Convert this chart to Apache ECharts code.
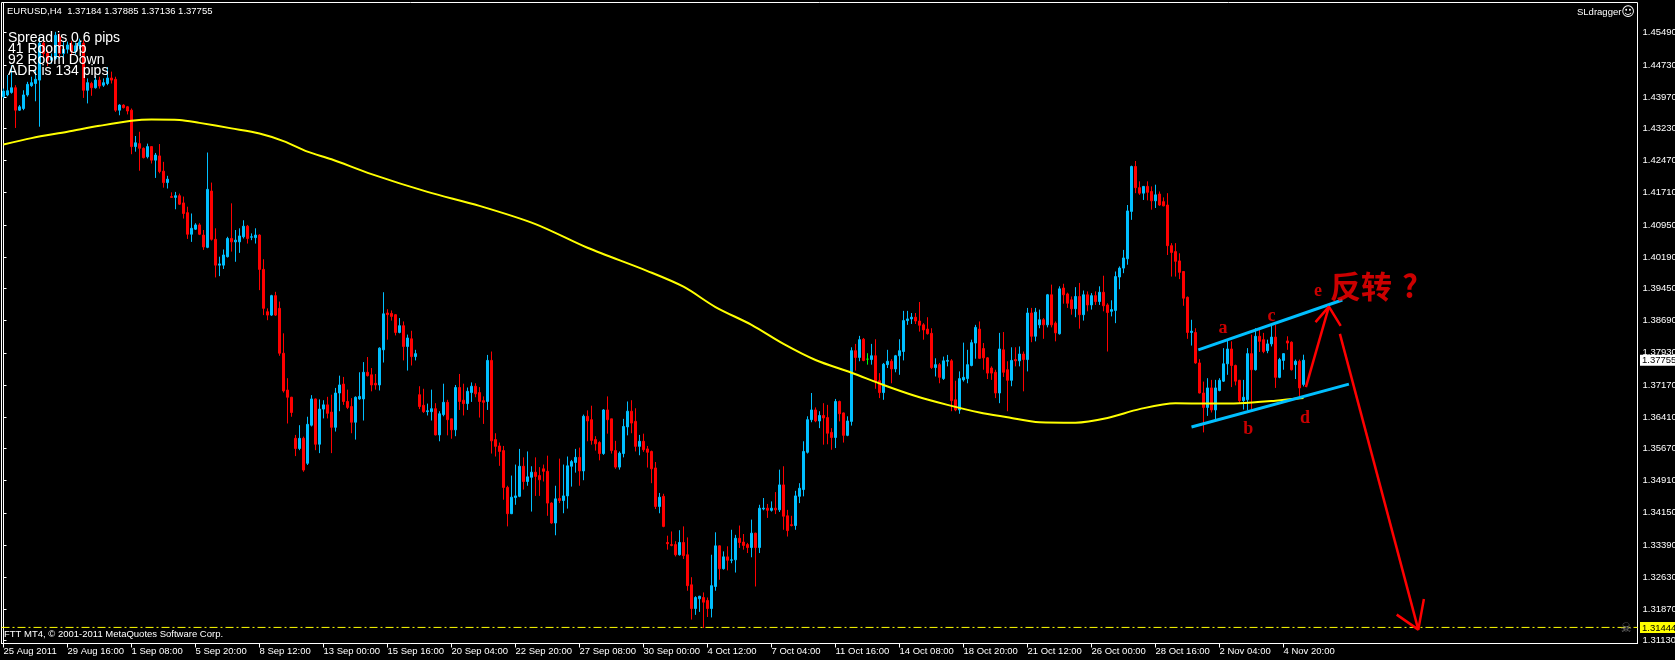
<!DOCTYPE html>
<html><head><meta charset="utf-8">
<script src="https://cdn.jsdelivr.net/npm/echarts@6/dist/echarts.min.js"></script>
<style>html,body{margin:0;padding:0;background:#000;}#c{width:1675px;height:660px;}</style>
</head><body><div id="c"></div>
<script>
// ---------- DATA ----------
const tickLabels = ["25 Aug 2011","29 Aug 16:00","1 Sep 08:00","5 Sep 20:00","8 Sep 12:00","13 Sep 00:00","15 Sep 16:00","20 Sep 04:00","22 Sep 20:00","27 Sep 08:00","30 Sep 00:00","4 Oct 12:00","7 Oct 04:00","11 Oct 16:00","14 Oct 08:00","18 Oct 20:00","21 Oct 12:00","26 Oct 00:00","28 Oct 16:00","2 Nov 04:00","4 Nov 20:00"];
const priceTicks = [1.45490,1.44730,1.43970,1.43230,1.42470,1.41710,1.40950,1.40190,1.39450,1.38690,1.37930,1.37170,1.36410,1.35670,1.34910,1.34150,1.33390,1.32630,1.31870,1.31130];
const bidPrice = 1.37755;
const targetPrice = 1.31444;
// [open, close, low, high]
const candles = [
[1.4398,1.4411,1.4394,1.4417],[1.4402,1.4412,1.4399,1.4449],[1.4408,1.4419,1.4405,1.4472],[1.4419,1.4366,1.4324,1.4425],[1.4366,1.4374,1.4364,1.4378],
[1.4370,1.4402,1.4366,1.4413],[1.4402,1.4427,1.4398,1.4433],[1.4424,1.4431,1.4421,1.4445],[1.4429,1.4439,1.4387,1.4461],[1.4437,1.4524,1.4327,1.4539],
[1.4524,1.4500,1.4490,1.4532],[1.4500,1.4484,1.4470,1.4508],[1.4484,1.4490,1.4476,1.4500],[1.4488,1.4543,1.4484,1.4551],[1.4539,1.4500,1.4492,1.4547],
[1.4500,1.4510,1.4490,1.4530],[1.4510,1.4520,1.4500,1.4528],[1.4520,1.4505,1.4495,1.4530],[1.4505,1.4518,1.4498,1.4526],[1.4518,1.4527,1.4510,1.4535],
[1.4524,1.4413,1.4395,1.4531],[1.4413,1.4431,1.4382,1.4441],[1.4429,1.4419,1.4400,1.4433],[1.4419,1.4437,1.4417,1.4446],[1.4437,1.4423,1.4417,1.4445],
[1.4425,1.4431,1.4421,1.4441],[1.4429,1.4442,1.4425,1.4468],[1.4442,1.4437,1.4429,1.4457],[1.4439,1.4366,1.4362,1.4445],[1.4366,1.4378,1.4354,1.4380],
[1.4378,1.4372,1.4370,1.4380],[1.4374,1.4364,1.4356,1.4376],[1.4366,1.4280,1.4262,1.4370],[1.4280,1.4289,1.4268,1.4305],[1.4287,1.4276,1.4223,1.4315],
[1.4276,1.4254,1.4252,1.4278],[1.4256,1.4280,1.4252,1.4287],[1.4280,1.4248,1.4240,1.4281],[1.4248,1.4260,1.4206,1.4265],[1.4258,1.4221,1.4217,1.4286],
[1.4222,1.4195,1.4183,1.4244],[1.4195,1.4203,1.4181,1.4211],[1.4162,1.4160,1.4159,1.4172],[1.4160,1.4164,1.4132,1.4173],[1.4164,1.4144,1.4142,1.4169],
[1.4147,1.4122,1.4110,1.4162],[1.4124,1.4073,1.4062,1.4138],[1.4073,1.4087,1.4055,1.4122],[1.4085,1.4095,1.4083,1.4099],[1.4095,1.4073,1.4071,1.4099],
[1.4071,1.4043,1.4036,1.4083],[1.4042,1.4179,1.4040,1.4266],[1.4175,1.4061,1.4058,1.4195],[1.4061,1.4000,1.3971,1.4087],[1.4000,1.4003,1.3974,1.4020],
[1.4000,1.4024,1.3991,1.4037],[1.4020,1.4063,1.4018,1.4067],[1.4063,1.4055,1.4032,1.4146],[1.4055,1.4059,1.4008,1.4083],[1.4055,1.4069,1.4029,1.4087],
[1.4067,1.4092,1.4063,1.4106],[1.4092,1.4063,1.4051,1.4095],[1.4066,1.4067,1.4059,1.4075],[1.4065,1.4071,1.4051,1.4087],[1.4071,1.3990,1.3941,1.4073],
[1.3990,1.3898,1.3882,1.4014],[1.3890,1.3882,1.3870,1.3898],[1.3882,1.3928,1.3880,1.3930],[1.3928,1.3882,1.3880,1.3937],[1.3898,1.3792,1.3786,1.3914],
[1.3792,1.3703,1.3699,1.3839],[1.3705,1.3688,1.3626,1.3733],[1.3688,1.3652,1.3642,1.3689],[1.3591,1.3567,1.3549,1.3599],[1.3567,1.3591,1.3563,1.3622],
[1.3591,1.3516,1.3512,1.3595],[1.3532,1.3624,1.3528,1.3642],[1.3622,1.3684,1.3619,1.3693],[1.3684,1.3577,1.3563,1.3685],[1.3577,1.3660,1.3556,1.3683],
[1.3660,1.3670,1.3638,1.3681],[1.3670,1.3650,1.3638,1.3689],[1.3653,1.3617,1.3556,1.3694],[1.3617,1.3698,1.3607,1.3710],[1.3698,1.3717,1.3655,1.3739],
[1.3719,1.3678,1.3670,1.3736],[1.3678,1.3664,1.3660,1.3706],[1.3666,1.3629,1.3603,1.3686],[1.3629,1.3688,1.3588,1.3690],[1.3684,1.3690,1.3682,1.3747],
[1.3684,1.3747,1.3633,1.3771],[1.3747,1.3739,1.3737,1.3783],[1.3741,1.3717,1.3702,1.3757],[1.3721,1.3717,1.3706,1.3743],[1.3717,1.3804,1.3704,1.3806],
[1.3800,1.3885,1.3770,1.3936],[1.3887,1.3883,1.3824,1.3896],[1.3886,1.3879,1.3869,1.3893],[1.3883,1.3841,1.3834,1.3884],[1.3841,1.3857,1.3839,1.3875],
[1.3857,1.3808,1.3775,1.3867],[1.3808,1.3828,1.3751,1.3836],[1.3826,1.3784,1.3763,1.3845],[1.3784,1.3791,1.3775,1.3800],[1.3694,1.3666,1.3660,1.3714],
[1.3669,1.3654,1.3651,1.3708],[1.3654,1.3656,1.3645,1.3673],[1.3654,1.3661,1.3633,1.3706],[1.3661,1.3599,1.3598,1.3674],[1.3599,1.3649,1.3584,1.3655],
[1.3647,1.3676,1.3643,1.3720],[1.3676,1.3635,1.3598,1.3682],[1.3637,1.3611,1.3590,1.3637],[1.3611,1.3711,1.3596,1.3717],[1.3711,1.3678,1.3658,1.3743],
[1.3681,1.3673,1.3645,1.3720],[1.3673,1.3702,1.3658,1.3711],[1.3699,1.3714,1.3677,1.3723],[1.3714,1.3696,1.3688,1.3721],[1.3699,1.3678,1.3640,1.3712],
[1.3680,1.3676,1.3625,1.3690],[1.3678,1.3775,1.3658,1.3788],[1.3775,1.3585,1.3555,1.3796],[1.3588,1.3572,1.3548,1.3603],[1.3573,1.3560,1.3526,1.3581],
[1.3562,1.3475,1.3446,1.3573],[1.3475,1.3413,1.3383,1.3479],[1.3413,1.3452,1.3412,1.3503],[1.3451,1.3455,1.3434,1.3529],[1.3454,1.3525,1.3452,1.3566],
[1.3525,1.3489,1.3470,1.3546],[1.3489,1.3500,1.3479,1.3560],[1.3499,1.3511,1.3418,1.3525],[1.3511,1.3501,1.3455,1.3546],[1.3503,1.3493,1.3455,1.3523],
[1.3519,1.3513,1.3489,1.3529],[1.3513,1.3438,1.3408,1.3550],[1.3438,1.3391,1.3389,1.3440],[1.3391,1.3448,1.3362,1.3479],[1.3449,1.3444,1.3438,1.3543],
[1.3444,1.3455,1.3414,1.3529],[1.3455,1.3526,1.3425,1.3548],[1.3525,1.3536,1.3477,1.3540],[1.3534,1.3546,1.3510,1.3566],[1.3546,1.3514,1.3479,1.3569],
[1.3514,1.3643,1.3492,1.3647],[1.3643,1.3632,1.3584,1.3657],[1.3635,1.3586,1.3576,1.3668],[1.3588,1.3578,1.3562,1.3596],[1.3581,1.3555,1.3539,1.3584],
[1.3555,1.3658,1.3552,1.3660],[1.3658,1.3635,1.3602,1.3690],[1.3637,1.3562,1.3555,1.3637],[1.3562,1.3523,1.3519,1.3585],[1.3523,1.3556,1.3517,1.3560],
[1.3555,1.3619,1.3546,1.3637],[1.3618,1.3655,1.3598,1.3678],[1.3655,1.3627,1.3603,1.3681],[1.3631,1.3572,1.3560,1.3662],[1.3572,1.3584,1.3551,1.3599],
[1.3584,1.3564,1.3559,1.3602],[1.3566,1.3558,1.3522,1.3573],[1.3560,1.3519,1.3485,1.3562],[1.3521,1.3430,1.3424,1.3535],[1.3430,1.3452,1.3414,1.3462],
[1.3454,1.3383,1.3381,1.3460],[1.3345,1.3342,1.3328,1.3361],[1.3340,1.3338,1.3336,1.3371],[1.3340,1.3316,1.3312,1.3348],[1.3316,1.3345,1.3314,1.3374],
[1.3345,1.3314,1.3306,1.3383],[1.3316,1.3243,1.3231,1.3357],[1.3245,1.3189,1.3163,1.3263],[1.3189,1.3215,1.3174,1.3218],[1.3212,1.3218,1.3181,1.3219],
[1.3215,1.3204,1.3143,1.3227],[1.3208,1.3189,1.3169,1.3215],[1.3189,1.3243,1.3168,1.3316],[1.3241,1.3337,1.3231,1.3369],[1.3337,1.3283,1.3257,1.3338],
[1.3283,1.3311,1.3281,1.3324],[1.3311,1.3303,1.3279,1.3336],[1.3303,1.3304,1.3296,1.3375],[1.3304,1.3355,1.3274,1.3363],[1.3355,1.3345,1.3332,1.3385],
[1.3346,1.3338,1.3328,1.3365],[1.3340,1.3333,1.3320,1.3344],[1.3333,1.3367,1.3310,1.3399],[1.3367,1.3333,1.3241,1.3368],[1.3333,1.3426,1.3320,1.3434],
[1.3424,1.3426,1.3421,1.3450],[1.3426,1.3421,1.3403,1.3436],[1.3421,1.3426,1.3418,1.3442],[1.3426,1.3422,1.3412,1.3464],[1.3422,1.3481,1.3417,1.3517],
[1.3481,1.3407,1.3375,1.3525],[1.3408,1.3373,1.3359,1.3422],[1.3387,1.3385,1.3383,1.3408],[1.3385,1.3455,1.3375,1.3467],[1.3454,1.3473,1.3438,1.3485],
[1.3470,1.3560,1.3454,1.3584],[1.3558,1.3635,1.3555,1.3643],[1.3635,1.3658,1.3629,1.3698],[1.3658,1.3632,1.3629,1.3664],[1.3632,1.3645,1.3615,1.3655],
[1.3645,1.3639,1.3576,1.3674],[1.3640,1.3603,1.3577,1.3670],[1.3605,1.3593,1.3564,1.3615],[1.3593,1.3678,1.3568,1.3684],[1.3678,1.3649,1.3631,1.3680],
[1.3651,1.3598,1.3581,1.3652],[1.3598,1.3632,1.3596,1.3643],[1.3631,1.3798,1.3621,1.3806],[1.3798,1.3782,1.3751,1.3814],[1.3782,1.3824,1.3773,1.3833],
[1.3825,1.3775,1.3773,1.3828],[1.3778,1.3778,1.3765,1.3792],[1.3777,1.3786,1.3765,1.3814],[1.3786,1.3725,1.3708,1.3825],[1.3727,1.3699,1.3686,1.3745],
[1.3699,1.3766,1.3682,1.3769],[1.3765,1.3773,1.3757,1.3800],[1.3773,1.3755,1.3721,1.3778],[1.3755,1.3786,1.3747,1.3788],[1.3786,1.3798,1.3741,1.3825],
[1.3796,1.3869,1.3775,1.3892],[1.3869,1.3873,1.3859,1.3892],[1.3873,1.3877,1.3861,1.3887],[1.3877,1.3868,1.3861,1.3887],[1.3868,1.3858,1.3843,1.3913],
[1.3859,1.3847,1.3824,1.3863],[1.3849,1.3838,1.3836,1.3877],[1.3839,1.3758,1.3755,1.3851],[1.3758,1.3765,1.3737,1.3780],[1.3765,1.3735,1.3721,1.3769],
[1.3732,1.3774,1.3729,1.3784],[1.3773,1.3775,1.3761,1.3788],[1.3774,1.3680,1.3655,1.3778],[1.3682,1.3658,1.3655,1.3727],[1.3658,1.3732,1.3649,1.3749],
[1.3729,1.3735,1.3725,1.3817],[1.3732,1.3765,1.3721,1.3800],[1.3763,1.3817,1.3761,1.3824],[1.3816,1.3853,1.3779,1.3859],[1.3849,1.3780,1.3779,1.3867],
[1.3803,1.3781,1.3753,1.3816],[1.3781,1.3745,1.3731,1.3783],[1.3757,1.3745,1.3729,1.3761],[1.3747,1.3698,1.3686,1.3753],[1.3698,1.3802,1.3674,1.3840],
[1.3800,1.3747,1.3736,1.3842],[1.3753,1.3728,1.3655,1.3773],[1.3728,1.3775,1.3714,1.3806],[1.3777,1.3774,1.3761,1.3806],[1.3774,1.3790,1.3761,1.3808],
[1.3790,1.3777,1.3702,1.3796],[1.3777,1.3887,1.3749,1.3899],[1.3887,1.3832,1.3818,1.3899],[1.3832,1.3889,1.3820,1.3899],[1.3859,1.3871,1.3851,1.3895],
[1.3871,1.3859,1.3826,1.3875],[1.3859,1.3930,1.3853,1.3932],[1.3930,1.3859,1.3853,1.3954],[1.3863,1.3840,1.3820,1.3867],[1.3838,1.3944,1.3836,1.3950],
[1.3946,1.3930,1.3909,1.3956],[1.3932,1.3910,1.3899,1.3935],[1.3918,1.3897,1.3883,1.3926],[1.3897,1.3926,1.3877,1.3948],[1.3926,1.3883,1.3850,1.3958],
[1.3883,1.3930,1.3869,1.3940],[1.3930,1.3906,1.3891,1.3938],[1.3906,1.3928,1.3895,1.3934],[1.3928,1.3914,1.3906,1.3938],[1.3914,1.3936,1.3906,1.3950],
[1.3936,1.3904,1.3891,1.3975],[1.3906,1.3888,1.3796,1.3910],[1.3891,1.3895,1.3879,1.3917],[1.3893,1.3973,1.3863,1.3985],[1.3972,1.3993,1.3943,1.3997],
[1.3993,1.4017,1.3981,1.4036],[1.4015,1.4128,1.4001,1.4142],[1.4127,1.4233,1.4107,1.4235],[1.4233,1.4183,1.4170,1.4246],[1.4183,1.4170,1.4166,1.4198],
[1.4170,1.4186,1.4154,1.4187],[1.4186,1.4172,1.4153,1.4198],[1.4174,1.4152,1.4131,1.4186],[1.4152,1.4166,1.4135,1.4190],[1.4168,1.4142,1.4140,1.4174],
[1.4150,1.4140,1.4139,1.4160],[1.4142,1.4046,1.4024,1.4170],[1.4046,1.4030,1.3973,1.4052],[1.4032,1.4009,1.3973,1.4052],[1.4010,1.3983,1.3967,1.4028],
[1.3985,1.3922,1.3904,1.3986],[1.3924,1.3841,1.3826,1.3926],[1.3841,1.3844,1.3810,1.3871],[1.3841,1.3769,1.3767,1.3851],[1.3769,1.3698,1.3697,1.3778],
[1.3698,1.3664,1.3605,1.3725],[1.3664,1.3710,1.3644,1.3733],[1.3710,1.3658,1.3652,1.3729],[1.3658,1.3710,1.3635,1.3729],[1.3704,1.3728,1.3702,1.3733],
[1.3726,1.3767,1.3724,1.3804],[1.3767,1.3802,1.3741,1.3824],[1.3802,1.3763,1.3712,1.3820],[1.3763,1.3726,1.3716,1.3765],[1.3728,1.3680,1.3672,1.3729],
[1.3680,1.3688,1.3659,1.3729],[1.3682,1.3791,1.3657,1.3804],[1.3791,1.3753,1.3659,1.3836],[1.3753,1.3832,1.3751,1.3851],[1.3832,1.3820,1.3795,1.3847],
[1.3824,1.3796,1.3792,1.3840],[1.3798,1.3814,1.3792,1.3824],[1.3814,1.3830,1.3808,1.3857],[1.3830,1.3735,1.3710,1.3859],[1.3735,1.3777,1.3733,1.3781],
[1.3775,1.3791,1.3753,1.3792],[1.3821,1.3816,1.3800,1.3832],[1.3818,1.3753,1.3751,1.3820],[1.3765,1.3773,1.3731,1.3777],[1.3773,1.3710,1.3690,1.3777],
[1.37184,1.37755,1.37136,1.37885]
];
// moving average (yellow), read at sample bars
const maIdx = [0,7,16,24,32,37,44,49,57,64,70,76,82,92,106,119,133,146,161,170,178,187,195,203,212,220,228,236,244,251,259,268,276,284,293,301,309,318,325];
const maVal = [1.4285,1.4300,1.4315,1.4329,1.4341,1.4344,1.4343,1.4336,1.4323,1.4311,1.4293,1.4268,1.4250,1.4215,1.4173,1.4140,1.4097,1.4041,1.3986,1.3949,1.3901,1.3859,1.3814,1.3776,1.3746,1.3717,1.3691,1.3670,1.3652,1.3641,1.3629,1.3628,1.3639,1.3660,1.3674,1.3673,1.3674,1.3680,1.3686];
// hand-drawn annotations (bar index, price)
const channelUpper = [[298.7,1.3800],[334.7,1.39176]];
const channelLower = [[297.0,1.36176],[336.35,1.3719]];
const arrowUp = [[325.6,1.3712],[331.35,1.3902]];
const arrowUpHead = [[328.0,1.38654],[331.35,1.3902],[334.3,1.38566]];
const arrowDown = [[334.1,1.38378],[353.7,1.31392]];
const arrowDownHead = [[348.3,1.31746],[353.7,1.31392],[355.1,1.32117]];
const waveLabels = [[304.9,1.38496,'a'],[311.2,1.36112,'b'],[317.0,1.38802,'c'],[325.35,1.36388,'d'],[328.6,1.39376,'e']];
const bigLabel = [[339.4,1.3951,'反转'],[351.6,1.3951,'?']];

// ---------- CHART ----------
const N = 409;
const cats = Array.from({length: N}, (_, i) => String(i));
const Y_MIN = 1.310639, Y_MAX = 1.462033;
const chart = echarts.init(document.getElementById('c'));
const tickOk = (idx) => idx % 16 === 0 && idx / 16 < tickLabels.length;
const annot = (data, color, width, z, type) => ({
  type: 'line', xAxisIndex: 1, yAxisIndex: 0, data: data, showSymbol: false, symbol: 'none',
  lineStyle: {color: color, width: width, type: type || 'solid'}, z: z, silent: true, animation: false
});
const boxLabel = {fontSize: 9.5, fontFamily: 'Liberation Sans', color: '#000', padding: [1, 2, 0, 2], lineHeight: 10};
chart.setOption({
  backgroundColor: '#000',
  animation: false,
  grid: {left: 1.5, top: 2.5, width: 1636, height: 641, show: true, borderColor: '#fff', borderWidth: 1, backgroundColor: '#000', containLabel: false, outerBoundsMode: 'none'},
  xAxis: [
    {type: 'category', data: cats, boundaryGap: true,
     axisLine: {show: true, lineStyle: {color: '#fff', width: 1}},
     axisTick: {show: true, interval: tickOk, alignWithLabel: true, length: 4, lineStyle: {color: '#fff'}},
     axisLabel: {interval: tickOk, formatter: (v, idx) => tickLabels[idx / 16] || '', color: '#fff', fontSize: 9.5, fontFamily: 'Liberation Sans', align: 'left', margin: 3},
     splitLine: {show: false}},
    {type: 'value', min: -0.5, max: N - 0.5, show: false}
  ],
  yAxis: [
    {type: 'value', position: 'right', min: Y_MIN, max: Y_MAX,
     axisLine: {show: true, lineStyle: {color: '#fff'}},
     axisTick: {show: true, length: 3, customValues: priceTicks, lineStyle: {color: '#fff'}},
     axisLabel: {customValues: priceTicks, formatter: v => v.toFixed(5), color: '#fff', fontSize: 9.5, fontFamily: 'Liberation Sans', margin: 5},
     splitLine: {show: false}},
    {type: 'value', position: 'right', min: Y_MIN, max: Y_MAX, z: 5,
     axisLine: {show: false}, axisTick: {show: false}, splitLine: {show: false},
     axisLabel: {customValues: [bidPrice, targetPrice], margin: 2.5,
       formatter: v => (Math.abs(v - bidPrice) < 1e-9 ? '{w|' : '{y|') + v.toFixed(5) + '}',
       rich: {w: Object.assign({backgroundColor: '#fff'}, boxLabel), y: Object.assign({backgroundColor: '#FFFF00'}, boxLabel)}}}
  ],
  series: [
    {type: 'candlestick', xAxisIndex: 0, yAxisIndex: 0, data: candles, barWidth: 2, z: 2,
     itemStyle: {color: '#00BFFF', color0: '#FF0000', borderColor: '#00BFFF', borderColor0: '#FF0000', borderColorDoji: '#00FF00', borderWidth: 1}},
    annot([[-0.5, targetPrice], [N - 0.5, targetPrice]], '#FFFF00', 1, 1, [8, 3, 2, 3]),
    Object.assign(annot(maIdx.map((x, k) => [x, maVal[k]]), '#FFFF00', 2, 3), {smooth: 0.3}),
    annot(channelUpper, '#00BFFF', 3, 5),
    annot(channelLower, '#00BFFF', 3, 5),
    annot(arrowUp, '#FF0000', 2.5, 6),
    annot(arrowUpHead, '#FF0000', 2.5, 6),
    annot(arrowDown, '#FF0000', 2.5, 6),
    annot(arrowDownHead, '#FF0000', 2.5, 6),
    {type: 'scatter', xAxisIndex: 1, yAxisIndex: 0, data: waveLabels, symbolSize: 0, z: 7, silent: true,
     label: {show: true, position: 'inside', formatter: p => p.value[2], color: '#FF0000', fontSize: 18, fontWeight: 'bold', fontFamily: 'Liberation Serif'}},
    {type: 'scatter', xAxisIndex: 1, yAxisIndex: 0, data: bigLabel, symbolSize: 0, z: 7, silent: true,
     label: {show: true, position: 'inside', formatter: p => p.value[2], color: '#FF0000', fontSize: 31, fontWeight: 'bold', fontFamily: 'Noto Sans CJK SC'}}
  ],
  graphic: [
    {type: 'text', x: 7, y: 11, z: 20, style: {text: 'EURUSD,H4  1.37184 1.37885 1.37136 1.37755', fill: '#fff', font: '9.5px "Liberation Sans"', verticalAlign: 'middle'}},
    {type: 'text', x: 8, y: 38, z: 20, style: {text: 'Spread is 0.6 pips', fill: '#fff', font: '14px "Liberation Sans"', verticalAlign: 'middle'}},
    {type: 'text', x: 8, y: 49, z: 20, style: {text: '41 Room Up', fill: '#fff', font: '14px "Liberation Sans"', verticalAlign: 'middle'}},
    {type: 'text', x: 8, y: 60, z: 20, style: {text: '92 Room Down', fill: '#fff', font: '14px "Liberation Sans"', verticalAlign: 'middle'}},
    {type: 'text', x: 8, y: 71, z: 20, style: {text: 'ADR is 134 pips', fill: '#fff', font: '14px "Liberation Sans"', verticalAlign: 'middle'}},
    {type: 'text', x: 4, y: 634, z: 20, style: {text: 'FTT MT4, © 2001-2011 MetaQuotes Software Corp.', fill: '#fff', font: '9.5px "Liberation Sans"', verticalAlign: 'middle'}},
    {type: 'text', x: 1577, y: 12.5, z: 20, style: {text: 'SLdragger', fill: '#fff', font: '9.5px "Liberation Sans"', verticalAlign: 'middle'}},
    {type: 'text', x: 1628, y: 12.5, z: 20, style: {text: '☺', fill: '#fff', font: '13px "DejaVu Sans"', align: 'center', verticalAlign: 'middle'}},
    {type: 'text', x: 1626, y: 629, z: 20, style: {text: '☠', fill: '#808080', font: '13px "DejaVu Sans"', align: 'center', verticalAlign: 'middle'}}
  ]
});
</script></body></html>
